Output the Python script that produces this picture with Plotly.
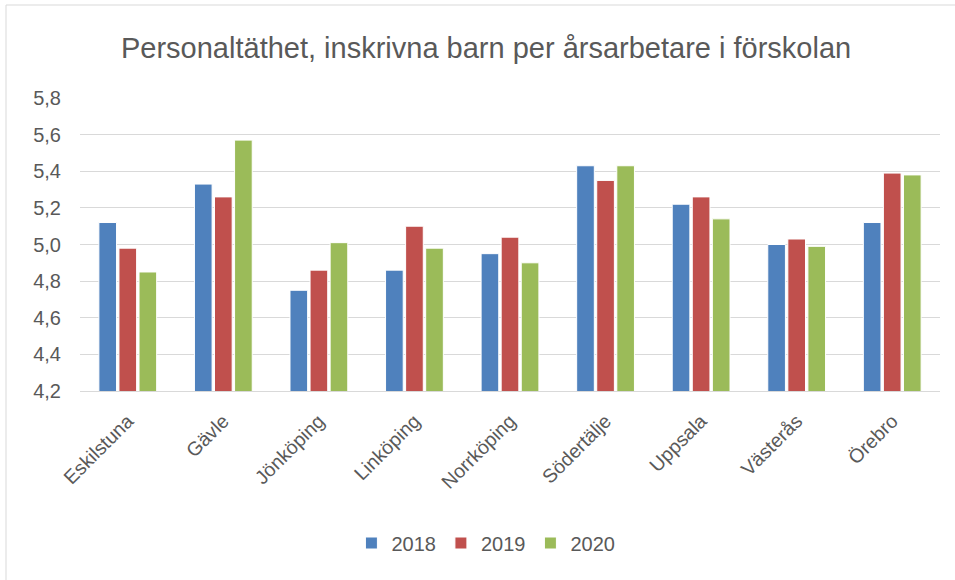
import plotly.graph_objects as go

categories = ["Eskilstuna", "Gävle", "Jönköping", "Linköping", "Norrköping",
              "Södertälje", "Uppsala", "Västerås", "Örebro"]
years = ["2018", "2019", "2020"]
v2018 = [5.12, 5.33, 4.75, 4.86, 4.95, 5.43, 5.22, 5.00, 5.12]
v2019 = [4.98, 5.26, 4.86, 5.10, 5.04, 5.35, 5.26, 5.03, 5.39]
v2020 = [4.85, 5.57, 5.01, 4.98, 4.90, 5.43, 5.14, 4.99, 5.38]
colors = ["#4F81BD", "#C0504D", "#9BBB59"]
yticks = [4.2, 4.4, 4.6, 4.8, 5.0, 5.2, 5.4, 5.6, 5.8]

fig = go.Figure()
for name, vals, col in zip(years, [v2018, v2019, v2020], colors):
    fig.add_trace(go.Bar(x=categories, y=vals, name=name,
                         marker=dict(color=col, line=dict(color="white", width=1))))

font = "Liberation Sans, Arial, sans-serif"
fig.update_layout(
    width=955, height=580,
    separators=", ",
    paper_bgcolor="white", plot_bgcolor="white",
    margin=dict(l=80, r=15, t=98, b=189),
    barmode="group", bargap=0.37, bargroupgap=0.12,
    title=dict(text="Personaltäthet, inskrivna barn per årsarbetare i förskolan",
               x=0.509, xanchor="center", y=1 - 48 / 580, yanchor="middle",
               font=dict(family=font, size=29, color="#595959")),
    font=dict(family=font, color="#595959"),
    xaxis=dict(tickangle=-45, tickfont=dict(size=19.5, color="#595959"),
               showline=True, linecolor="#D9D9D9", ticks="",
               ticklabelstandoff=10),
    yaxis=dict(range=[4.2, 5.8], tickvals=yticks, tickformat=".1f",
               tickfont=dict(size=20, color="#595959"),
               gridcolor="#D9D9D9", gridwidth=1, zeroline=False, ticks="",
               ticklabelstandoff=18),
    legend=dict(orientation="h", x=0.472, xanchor="center", y=(391 - 543) / 293,
                yanchor="middle",
                font=dict(size=20, color="#595959"), itemwidth=30,
                traceorder="normal"),
    showlegend=True,
    shapes=[dict(type="rect", xref="paper", yref="paper",
                 x0=(6 - 80) / 860, x1=1.2, y0=-1.0, y1=(391 - 5) / 293,
                 line=dict(color="#D9D9D9", width=1), layer="below")],
)
fig.write_html("out.html", config={"displayModeBar": False},
               post_script="document.body.style.margin='0';")
